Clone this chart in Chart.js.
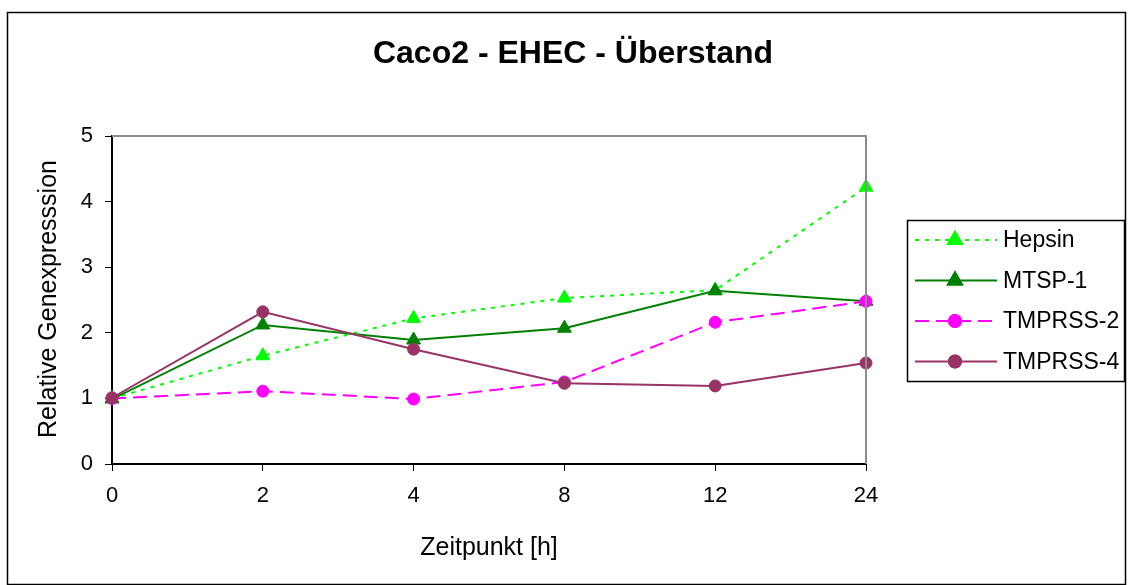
<!DOCTYPE html>
<html>
<head>
<meta charset="utf-8">
<title>Caco2 - EHEC - Überstand</title>
<script src="https://cdn.jsdelivr.net/npm/chart.js@4.4.1/dist/chart.umd.min.js"></script>
<style>
  html, body { margin: 0; padding: 0; background: #fff; }
  #wrap { position: relative; width: 1128px; height: 585px; }
</style>
</head>
<body>
<div id="wrap"><canvas id="chart" width="1128" height="585"></canvas></div>
<script>
// Time points (hours) and relative gene expression per protease
const timepoints = ['0', '2', '4', '8', '12', '24'];
const hepsin   = [1.00, 1.65, 2.22, 2.53, 2.65, 4.22];
const mtsp1    = [0.99, 2.12, 1.89, 2.07, 2.64, 2.48];
const tmprss2  = [1.00, 1.11, 0.99, 1.25, 2.16, 2.48];
const tmprss4  = [1.01, 2.32, 1.75, 1.23, 1.19, 1.54];
const yTicks   = [0, 1, 2, 3, 4, 5];

const titleText  = 'Caco2 - EHEC - Überstand';
const xTitleText = 'Zeitpunkt [h]';
const yTitleText = 'Relative Genexpresssion';

const FONT = '"Liberation Sans", Arial, sans-serif';

const series = [
  { label: 'Hepsin',    data: hepsin,  color: '#00FF00', dash: [4, 6],  style: 'triangle', radius: 8 },
  { label: 'MTSP-1',    data: mtsp1,   color: '#008000', dash: [],      style: 'triangle', radius: 8 },
  { label: 'TMPRSS-2',  data: tmprss2, color: '#FF00FF', dash: [14, 7], style: 'circle',   radius: 6 },
  { label: 'TMPRSS-4',  data: tmprss4, color: '#993366', dash: [],      style: 'circle',   radius: 6 }
];

// Frame, chart title, axis titles, plot border and legend box
const decorations = {
  id: 'decorations',
  afterDraw(chart) {
    const ctx = chart.ctx;
    const area = chart.chartArea;
    ctx.save();

    // outer frame
    ctx.strokeStyle = '#000';
    ctx.lineWidth = 1.5;
    ctx.strokeRect(7.5, 12.5, 1118, 572);

    // plot area top and right edges
    ctx.strokeStyle = '#8c8c8c';
    ctx.lineWidth = 2;
    ctx.beginPath();
    ctx.moveTo(area.left, area.top);
    ctx.lineTo(area.right, area.top);
    ctx.lineTo(area.right, area.bottom);
    ctx.stroke();

    // title
    ctx.fillStyle = '#000';
    ctx.font = 'bold 32px ' + FONT;
    ctx.textAlign = 'center';
    ctx.textBaseline = 'middle';
    ctx.fillText(titleText, 573, 54);

    // axis titles
    ctx.font = '25px ' + FONT;
    ctx.fillText(xTitleText, (area.left + area.right) / 2, 548);
    ctx.save();
    ctx.translate(49, (area.top + area.bottom) / 2 - 1);
    ctx.rotate(-Math.PI / 2);
    ctx.fillText(yTitleText, 0, 0);
    ctx.restore();

    // legend
    const lx = 907, ly = 220, lw = 217, lh = 161;
    ctx.fillStyle = '#fff';
    ctx.fillRect(lx, ly, lw, lh);
    ctx.strokeStyle = '#000';
    ctx.lineWidth = 1.5;
    ctx.strokeRect(lx + 0.5, ly + 0.5, lw, lh);

    chart.data.datasets.forEach((ds, i) => {
      const y = ly + 20 + i * 40.5;
      ctx.strokeStyle = ds.borderColor;
      ctx.lineWidth = 2;
      ctx.setLineDash(ds.borderDash || []);
      ctx.beginPath();
      ctx.moveTo(915, y);
      ctx.lineTo(997, y);
      ctx.stroke();
      ctx.setLineDash([]);
      Chart.helpers.drawPoint(ctx, {
        pointStyle: ds.pointStyle,
        radius: ds.pointRadius,
        borderWidth: 1,
        rotation: 0
      }, 955, y);
      ctx.fillStyle = ds.pointBackgroundColor;
      ctx.strokeStyle = ds.pointBorderColor;
      ctx.fill();
      ctx.stroke();

      ctx.fillStyle = '#000';
      ctx.font = '23px ' + FONT;
      ctx.textAlign = 'left';
      ctx.textBaseline = 'middle';
      ctx.fillText(ds.label, 1003, y + 1);
    });

    ctx.restore();
  }
};

new Chart(document.getElementById('chart'), {
  type: 'line',
  data: {
    labels: timepoints,
    datasets: series.map((s, i) => ({
      label: s.label,
      data: s.data,
      borderColor: s.color,
      backgroundColor: s.color,
      pointBackgroundColor: s.color,
      pointBorderColor: s.color,
      borderWidth: 2,
      borderDash: s.dash,
      pointStyle: s.style,
      pointRadius: s.radius,
      pointHoverRadius: s.radius,
      pointBorderWidth: 1,
      tension: 0,
      fill: false,
      order: series.length - i
    }))
  },
  options: {
    responsive: false,
    animation: false,
    events: [],
    layout: { padding: { top: 136, right: 262, left: 0, bottom: 0 } },
    plugins: {
      legend: { display: false },
      title: { display: false },
      tooltip: { enabled: false }
    },
    scales: {
      x: {
        type: 'category',
        offset: false,
        grid: { drawOnChartArea: false, tickColor: '#000', tickLength: 7, lineWidth: 1 },
        border: { color: '#000', width: 2 },
        ticks: { color: '#000', font: { family: FONT, size: 22 }, padding: 12, maxRotation: 0 },
        afterFit(scale) { scale.height = 121; }
      },
      y: {
        min: 0,
        max: 5,
        afterBuildTicks(scale) { scale.ticks = yTicks.map(v => ({ value: v })); },
        grid: { drawOnChartArea: false, tickColor: '#000', tickLength: 7, lineWidth: 1 },
        border: { color: '#000', width: 2 },
        ticks: { color: '#000', font: { family: FONT, size: 22 }, padding: 12 },
        afterFit(scale) { scale.width = 112; }
      }
    }
  },
  plugins: [decorations]
});
</script>
</body>
</html>
